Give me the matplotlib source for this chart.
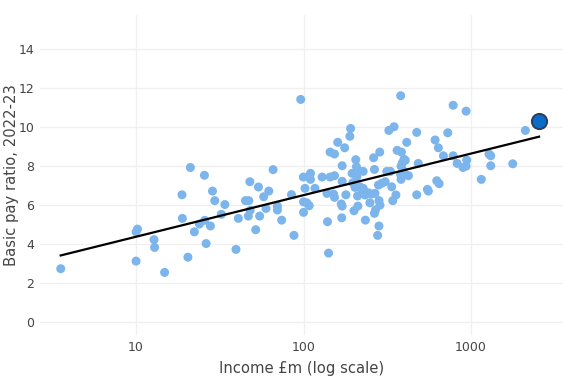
import matplotlib
matplotlib.use("Agg")
import matplotlib.pyplot as plt
import numpy as np

# Income (£m) and basic pay ratio for each organisation
income = [3.55, 10.0, 10.0, 10.2, 12.8, 12.9, 14.8, 18.8, 18.9, 20.4, 21.1, 22.3, 23.9,
          25.6, 25.7, 26.2, 27.8, 28.6, 29.5, 32.3, 33.9, 39.5, 40.8, 45, 47.1, 47.8,
          46.8, 48, 51.8, 53.8, 54.7, 57.8, 59.7, 62, 65.8, 69.8, 69.8, 74, 84.7,
          87.7, 96.2, 100, 104.5, 108, 100, 102, 99.7, 110, 110, 117, 129, 138, 151,
          153, 139, 141, 144, 153, 144, 153, 160, 176, 168, 170, 169, 179, 170, 170,
          189, 191, 195, 197, 200, 205, 207, 211, 208, 211, 203, 217, 227, 210, 223,
          227, 233, 244, 255, 267, 249, 234, 265, 269, 262, 265, 285, 282, 286, 282,
          277, 280, 293, 307, 314, 330, 323, 347, 336, 341, 356, 362, 384, 380, 382,
          394, 380, 382, 389, 398, 405, 413, 423, 474, 474, 484, 549, 556, 610, 624,
          645, 638, 684, 726, 782, 782, 826, 895, 934, 934, 942, 1151, 1279, 1311,
          1311, 1774, 2110]
pay_ratio = [2.71, 3.1, 4.6, 4.74, 4.2, 3.8, 2.52, 6.5, 5.29, 3.3, 7.9, 4.6, 5.0,
             7.5, 5.19, 4.0, 4.9, 6.69, 6.2, 5.5, 6.0, 3.7, 5.29, 6.2, 6.2, 7.17,
             5.41, 5.7, 4.71, 6.9, 5.41, 6.4, 5.8, 6.69, 7.79, 5.92, 5.72, 5.2, 6.51,
             4.42, 11.39, 6.14, 6.09, 5.94, 5.6, 6.83, 7.41, 7.6, 7.29, 6.83, 7.41, 6.57, 6.54,
             6.37, 5.12, 3.51, 7.41, 7.48, 8.69, 8.59, 9.19, 8.91, 6.03, 5.92, 5.32, 6.5, 7.19, 7.99,
             9.5, 9.9, 7.6, 7.12, 5.68, 8.3, 7.94, 7.77, 7.43, 5.92, 6.88, 6.91, 6.83, 6.44, 6.57,
             7.7, 6.49, 6.6, 6.54, 6.57, 6.09, 5.2, 5.55, 5.72, 8.4, 7.8, 8.69, 6.2, 5.97, 4.9,
             4.42, 7.0, 7.09, 7.17, 7.7, 7.7, 9.8, 9.99, 6.91, 6.2, 6.49, 8.78, 8.69, 11.58, 7.97,
             7.73, 7.53, 7.29, 8.14, 8.32, 8.27, 9.19, 7.48, 9.7, 6.5, 8.11, 6.78, 6.69, 9.31, 7.22,
             7.07, 8.91, 8.5, 9.68, 11.09, 8.5, 8.11, 7.9, 7.97, 10.79, 8.28, 7.29, 8.59, 8.5,
             7.99, 8.09, 9.8]

# Highlighted organisation
highlight_income = [2547]
highlight_ratio = [10.28]

# Trend line end points
trend_income = [3.55, 2547]
trend_ratio = [3.39, 9.48]

x_ticks = [10, 100, 1000]
x_tick_labels = ["10", "100", "1000"]
y_ticks = [0, 2, 4, 6, 8, 10, 12, 14]

plt.rcParams['font.family'] = ['DejaVu Sans']

fig = plt.figure(figsize=(5.69, 3.76), dpi=100)
ax = fig.add_axes([40/569, 1-335/376, (563-40)/569, (335-15)/376])

ax.scatter(income, pay_ratio, s=42, color="#7cb5ec", edgecolors="none", zorder=3)
ax.plot(trend_income, trend_ratio, color="black", lw=1.6, zorder=4)
ax.scatter(highlight_income, highlight_ratio, s=120, color="#0b6cc8",
           edgecolors="#2a3f5f", linewidths=1.4, zorder=5)

ax.set_xscale("log")
ax.set_xlim(2.67, 3540)
ax.set_ylim(-0.69, 15.72)
ax.set_xticks(x_ticks)
ax.set_xticklabels(x_tick_labels)
ax.minorticks_off()
ax.set_yticks(y_ticks)

for s in ax.spines.values():
    s.set_visible(False)
ax.grid(True, color="#f0f0f0", lw=1, zorder=0)
ax.set_axisbelow(True)
ax.tick_params(length=0, labelsize=9, labelcolor="#444444", pad=4)

ax.set_xlabel("Income £m (log scale)", fontsize=10.6, color="#444444", va="center")
ax.xaxis.set_label_coords(0.5, (335 - 368) / 320)
ax.set_ylabel("Basic pay ratio, 2022-23", fontsize=10.6, color="#444444", va="center")
ax.yaxis.set_label_coords((12 - 40) / 523, 0.5)

fig.savefig("out.png", dpi=100)
